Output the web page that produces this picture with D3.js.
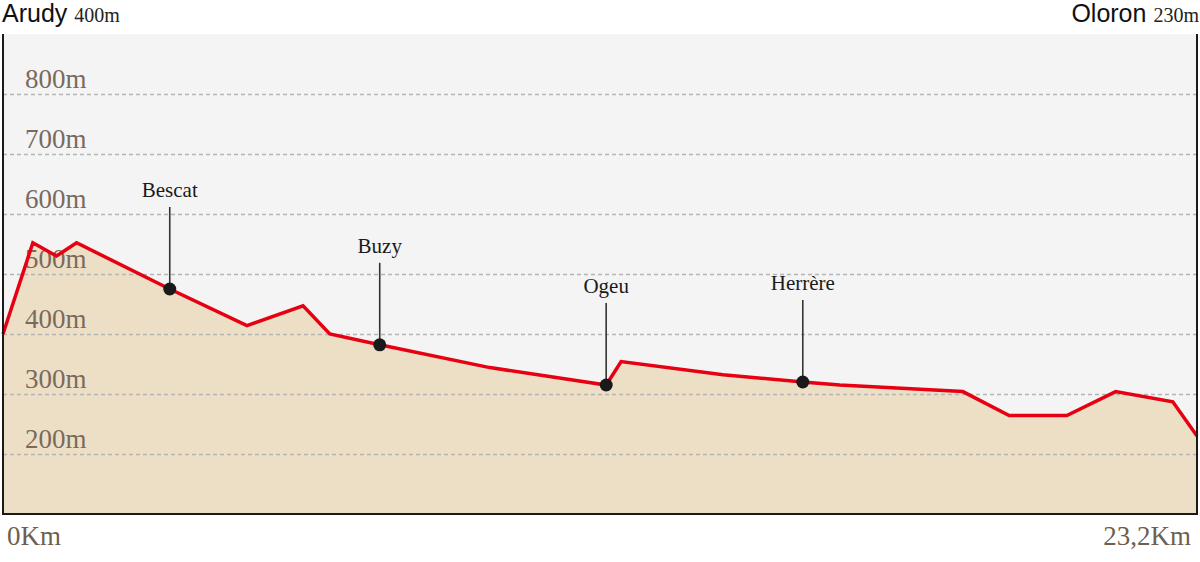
<!DOCTYPE html>
<html><head><meta charset="utf-8">
<script src="https://cdn.jsdelivr.net/npm/d3@7"></script>
<style>html,body{margin:0;padding:0;background:#fff;}svg{display:block;}</style>
</head><body>
<svg id="c" width="1200" height="562"></svg>
<script>
// Profile data: distance (km) and elevation (m)
const distKm = [0, 0.58, 1.04, 1.43, 3.24, 4.74, 5.83, 6.35, 7.32, 9.46, 11.72, 12.01, 13.99, 15.54, 16.26, 18.65, 19.55, 20.67, 21.62, 22.73, 23.2];
const elevM  = [400, 552, 530, 552, 475, 414, 447, 400, 382, 344, 315, 354, 332, 320, 315, 304, 264, 264, 304, 287, 230];
// Towns along the route
const townNames = ["Bescat", "Buzy", "Ogeu", "Herrère"];
const townKm    = [3.24, 7.32, 11.72, 15.54];
const townElev  = [475, 382, 315, 320];
// Axis ticks
const yTicks = [200, 300, 400, 500, 600, 700, 800];
const startName = "Arudy", startElev = "400m";
const endName = "Oloron", endElev = "230m";
const xLabels = ["0Km", "23,2Km"];

const svg = d3.select("#c");
const L = 3, R = 1197, T = 34, B = 514;
const x = d3.scaleLinear().domain([0, 23.2]).range([L, R]);
const y = d3.scaleLinear().domain([100, 900]).range([B, T]);
const serif = "'Liberation Serif','DejaVu Serif',serif";
const sans = "'Liberation Sans',Arial,sans-serif";

svg.append("rect").attr("x", L).attr("y", T).attr("width", R - L).attr("height", B - T).attr("fill", "#f4f4f4");

const pts = distKm.map((d, i) => [d, elevM[i]]);
svg.append("path").datum(pts)
  .attr("d", d3.area().x(d => x(d[0])).y0(B).y1(d => y(d[1])))
  .attr("fill", "#ecdfc6");

// gridlines
const yAxis = d3.axisLeft(y).tickValues(yTicks).tickSize(-(R - L)).tickFormat("");
const ga = svg.append("g").attr("transform", `translate(${L},0)`).call(yAxis);
ga.select(".domain").remove();
ga.selectAll(".tick line").attr("stroke", "#b4b4b4").attr("stroke-width", 1.6).attr("stroke-dasharray", "4,3");

svg.append("g").selectAll("text").data(yTicks).join("text")
  .attr("x", 25).attr("y", d => y(d) - 6)
  .attr("font-family", serif).attr("font-size", 27).attr("fill", "#7a6a5b")
  .text(d => d + "m");

// profile line
svg.append("path").datum(pts)
  .attr("d", d3.line().x(d => x(d[0])).y(d => y(d[1])))
  .attr("fill", "none").attr("stroke", "#e60012").attr("stroke-width", 3.5).attr("stroke-linejoin", "miter");

// towns
const towns = townNames.map((n, i) => ({n, km: townKm[i], e: townElev[i]}));
const tg = svg.append("g");
tg.selectAll("line").data(towns).join("line")
  .attr("x1", d => x(d.km)).attr("x2", d => x(d.km))
  .attr("y1", d => y(d.e) - 82).attr("y2", d => y(d.e))
  .attr("stroke", "#333").attr("stroke-width", 1.6);
tg.selectAll("circle").data(towns).join("circle")
  .attr("cx", d => x(d.km)).attr("cy", d => y(d.e)).attr("r", 6.5).attr("fill", "#1a1a1a");
tg.selectAll("text").data(towns).join("text")
  .attr("x", d => x(d.km)).attr("y", d => y(d.e) - 92)
  .attr("text-anchor", "middle").attr("font-family", serif).attr("font-size", 21).attr("fill", "#1a1a1a")
  .text(d => d.n);

// frame
svg.append("line").attr("x1", L).attr("x2", L).attr("y1", T).attr("y2", B).attr("stroke", "#1a1a1a").attr("stroke-width", 2);
svg.append("line").attr("x1", R).attr("x2", R).attr("y1", T).attr("y2", B).attr("stroke", "#1a1a1a").attr("stroke-width", 2);
svg.append("line").attr("x1", L - 1).attr("x2", R + 1).attr("y1", B).attr("y2", B).attr("stroke", "#1a1a1a").attr("stroke-width", 2);

// headers
const h1 = svg.append("text").attr("x", 2).attr("y", 22);
h1.append("tspan").attr("font-family", sans).attr("font-size", 25).attr("fill", "#111").text(startName);
h1.append("tspan").attr("font-family", serif).attr("font-size", 20).attr("fill", "#222").attr("dx", 7).text(startElev);
const h2 = svg.append("text").attr("x", 1199).attr("y", 22).attr("text-anchor", "end");
h2.append("tspan").attr("font-family", sans).attr("font-size", 25).attr("fill", "#111").text(endName);
h2.append("tspan").attr("font-family", serif).attr("font-size", 20).attr("fill", "#222").attr("dx", 7).text(endElev);

// x labels
svg.append("text").attr("x", 7).attr("y", 545).attr("font-family", serif).attr("font-size", 27).attr("fill", "#6e5f50").text(xLabels[0]);
svg.append("text").attr("x", 1191).attr("y", 545).attr("text-anchor", "end").attr("font-family", serif).attr("font-size", 27).attr("fill", "#6e5f50").text(xLabels[1]);
</script>
</body></html>
